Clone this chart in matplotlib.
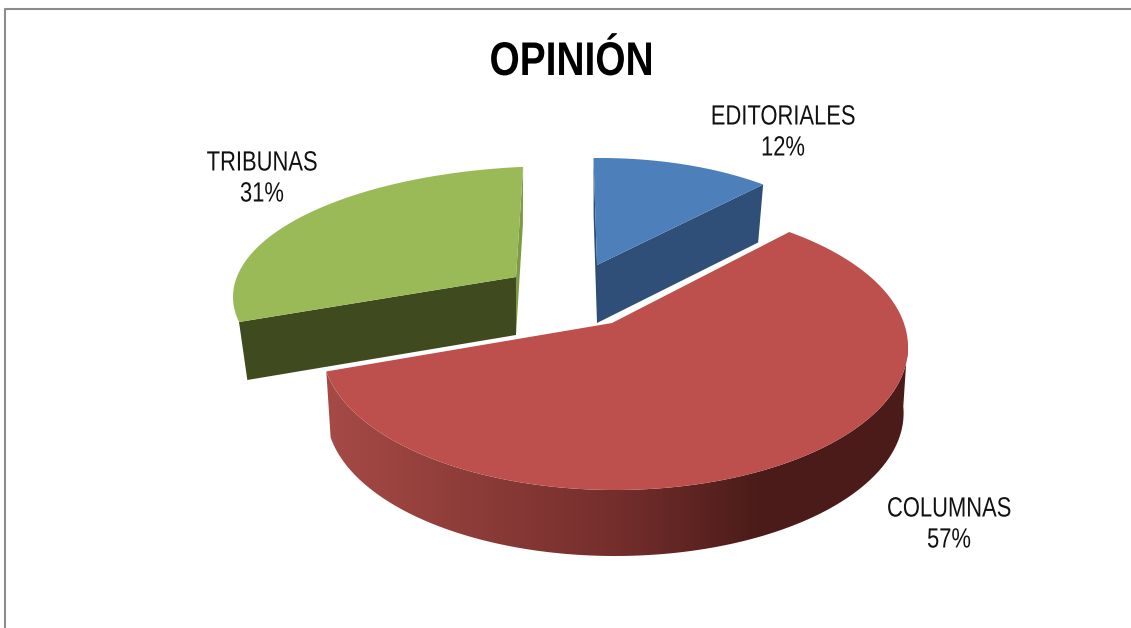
import numpy as np
import matplotlib
matplotlib.use("Agg")
from matplotlib import pyplot as plt
from matplotlib.colors import LinearSegmentedColormap
from matplotlib.patches import Polygon
from matplotlib.patheffects import AbstractPathEffect
from matplotlib.transforms import Affine2D

labels = ["EDITORIALES", "COLUMNAS", "TRIBUNAS"]
values = [12, 57, 31]
title = "OPINIÓN"

W, H = 1131, 628
plt.rcParams['font.family'] = ['Liberation Sans', 'DejaVu Sans']


class Squeeze(AbstractPathEffect):
    # the reference uses a narrow font, so squeeze the glyphs around x0 (pixels)
    def __init__(self, sx, x0):
        super().__init__()
        self.sx = sx
        self.x0 = x0

    def draw_path(self, renderer, gc, tpath, affine, rgbFace=None):
        t = affine + Affine2D().translate(-self.x0, 0).scale(self.sx, 1).translate(self.x0, 0)
        renderer.draw_path(gc, tpath, t, rgbFace)


fig = plt.figure(figsize=(W / 100, H / 100), dpi=100)
ax = fig.add_axes([0, 0, 1, 1])
ax.set_xlim(0, W)
ax.set_ylim(H, 0)
ax.axis('off')

# frame of the chart area, only left and top are in the picture
ax.plot([5, 5, 1131], [628, 9, 9], color='#8c8c8c', lw=1.5)

# one entry per slice: apex, rim ellipse, angle warp (perspective), side height
geom = [
    dict(ax=597, ay=265, ex=600, ey=283, rx=265, ry=125, off=-1.4, scale=0.912, d=58,
         top='#4d7fba', walls=('#2b4a70', '#2f4f78')),
    dict(ax=612, ay=323, ex=615, ey=347, rx=293, ry=143, off=-10.6, scale=1.09, d=66,
         top='#bd4f4c', walls=None),
    dict(ax=516, ay=277, ex=560, ey=297, rx=327, ry=131, off=-311.4, scale=0.847, d=58,
         top='#9aba58', walls=('#3f4a1f', '#7d9a45')),
]
rim_cmap = LinearSegmentedColormap.from_list(
    'rim', [(0, '#a64a46'), (0.5, '#742e2c'), (0.74, '#4c1c1a'), (1, '#4a1b19')])


def rim(g, theta):
    # theta in degrees clockwise from 12 o'clock
    phi = np.radians(g['off'] + g['scale'] * theta)
    return g['ex'] + g['rx'] * np.sin(phi), g['ey'] - g['ry'] * np.cos(phi)


angles = np.cumsum([0] + values) / sum(values) * 360

# far slices first, the big one goes on top
for i in [0, 2, 1]:
    g = geom[i]
    t = np.linspace(angles[i], angles[i + 1], 300)
    x, y = rim(g, t)

    if g['walls']:
        # cut faces
        for a, c in zip((angles[i], angles[i + 1]), g['walls']):
            ex, ey = rim(g, a)
            ax.fill([g['ax'], ex, ex + (g['ax'] - ex) * 0.03, g['ax']],
                    [g['ay'], ey, ey + g['d'], g['ay'] + g['d']],
                    color=c, lw=0, zorder=2 + i)
    else:
        # outer rim with a sideways gradient
        xb = g['ex'] + (x - g['ex']) * 0.985
        yb = y + g['d']
        keep = np.cos(np.radians(g['off'] + g['scale'] * t)) < 0.05
        pts = np.c_[np.r_[x[keep], xb[keep][::-1]], np.r_[y[keep], yb[keep][::-1]]]
        grad = np.linspace(0, 1, 256).reshape(1, -1)
        im = ax.imshow(grad, cmap=rim_cmap, aspect='auto', zorder=2 + i,
                       extent=(x[keep].min(), x[keep].max(), 600, 300))
        im.set_clip_path(Polygon(pts, transform=ax.transData))
        ax.set_xlim(0, W)
        ax.set_ylim(H, 0)

    # top face
    ax.fill(np.r_[g['ax'], x], np.r_[g['ay'], y], color=g['top'], lw=0, zorder=3 + i)

ax.text(571.5, 75, title, ha='center', va='baseline', fontsize=34, fontweight='bold', color='black',
        zorder=9, path_effects=[Squeeze(0.823, 571.5)])
label_pos = [(783, 133), (949, 525), (262, 179)]
for name, val, (lx, ly) in zip(labels, values, label_pos):
    ax.text(lx, ly, "%s\n%d%%" % (name, val), ha='center', va='center', fontsize=20,
            color='#111111', linespacing=1.25, zorder=9, path_effects=[Squeeze(0.79, lx)])

fig.savefig('out.png', dpi=100)
